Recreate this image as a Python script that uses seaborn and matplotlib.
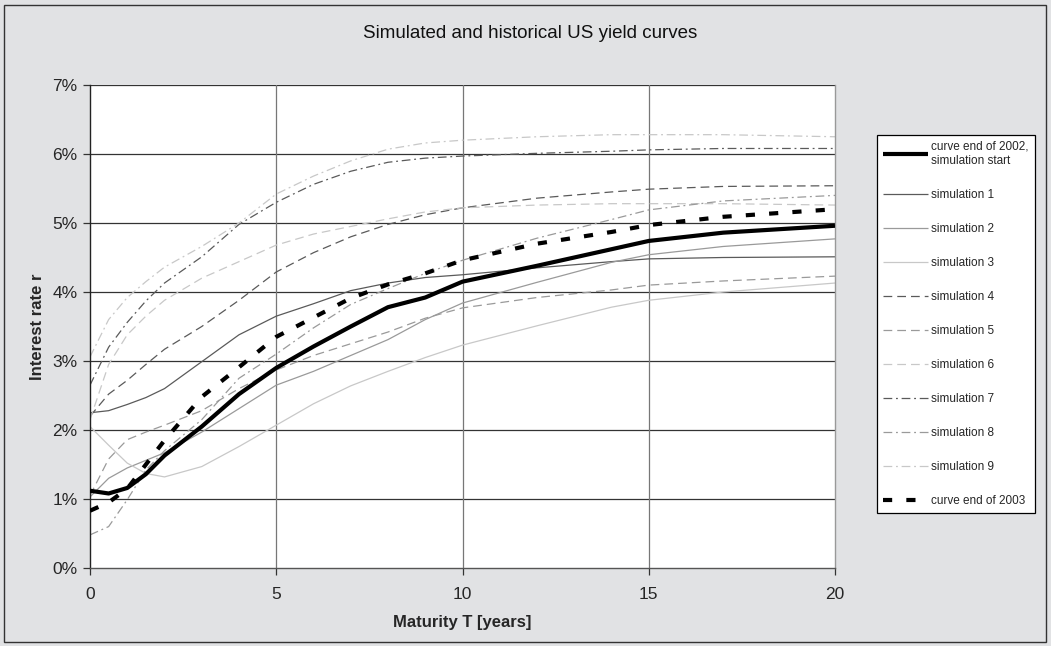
import matplotlib
matplotlib.use("Agg")
import matplotlib.pyplot as plt
import seaborn as sns
import pandas as pd
from matplotlib.patches import Rectangle

# ---------------- data (percent) ----------------
maturity = [0, 0.5, 1, 1.5, 2, 3, 4, 5, 6, 7, 8, 9, 10, 12, 14, 15, 17, 20]

curve_2002 = [1.12, 1.08, 1.16, 1.36, 1.63, 2.05, 2.52, 2.90, 3.21, 3.50, 3.78, 3.92, 4.15, 4.38, 4.62, 4.74, 4.86, 4.96]
sim_1 = [2.25, 2.28, 2.37, 2.47, 2.60, 2.99, 3.38, 3.65, 3.83, 4.02, 4.13, 4.21, 4.25, 4.35, 4.44, 4.48, 4.50, 4.51]
sim_2 = [1.03, 1.30, 1.45, 1.56, 1.67, 1.97, 2.31, 2.65, 2.85, 3.08, 3.31, 3.60, 3.84, 4.14, 4.43, 4.54, 4.66, 4.77]
sim_3 = [2.05, 1.78, 1.52, 1.37, 1.32, 1.47, 1.76, 2.07, 2.38, 2.64, 2.85, 3.05, 3.23, 3.51, 3.78, 3.88, 4.00, 4.13]
sim_4 = [2.20, 2.52, 2.72, 2.95, 3.17, 3.50, 3.88, 4.29, 4.57, 4.80, 4.98, 5.12, 5.22, 5.36, 5.45, 5.49, 5.53, 5.54]
sim_5 = [1.05, 1.58, 1.86, 1.97, 2.07, 2.28, 2.60, 2.87, 3.08, 3.25, 3.42, 3.62, 3.77, 3.92, 4.03, 4.10, 4.16, 4.23]
sim_6 = [2.15, 2.95, 3.38, 3.65, 3.88, 4.20, 4.44, 4.68, 4.84, 4.95, 5.06, 5.16, 5.22, 5.26, 5.28, 5.28, 5.28, 5.26]
sim_7 = [2.65, 3.20, 3.56, 3.87, 4.13, 4.51, 4.98, 5.30, 5.56, 5.75, 5.88, 5.94, 5.97, 6.01, 6.04, 6.06, 6.08, 6.08]
sim_8 = [0.48, 0.60, 0.99, 1.42, 1.70, 2.15, 2.75, 3.10, 3.48, 3.82, 4.05, 4.27, 4.46, 4.78, 5.05, 5.19, 5.32, 5.40]
sim_9 = [3.06, 3.60, 3.92, 4.15, 4.36, 4.66, 5.00, 5.42, 5.68, 5.90, 6.07, 6.16, 6.20, 6.25, 6.28, 6.28, 6.28, 6.25]
curve_2003 = [0.83, 0.95, 1.15, 1.50, 1.85, 2.48, 2.91, 3.35, 3.63, 3.91, 4.11, 4.27, 4.46, 4.70, 4.87, 4.97, 5.09, 5.20]

labels = ["curve end of 2002,\nsimulation start", "simulation 1", "simulation 2", "simulation 3",
          "simulation 4", "simulation 5", "simulation 6", "simulation 7", "simulation 8",
          "simulation 9", "curve end of 2003"]
series = [curve_2002, sim_1, sim_2, sim_3, sim_4, sim_5, sim_6, sim_7, sim_8, sim_9, curve_2003]

x_ticks = [0, 5, 10, 15, 20]
y_ticks = [0, 1, 2, 3, 4, 5, 6, 7]

# ---------------- styles ----------------
dark, mid, light = "#5a5a5a", "#9a9a9a", "#c8c8c8"
solid = None
dash = (7, 4)
dashdot = (7, 3, 1.5, 3)
styles = [
    ("black", 3.0, solid),
    (dark, 0.9, solid), (mid, 0.9, solid), (light, 0.9, solid),
    (dark, 0.9, dash), (mid, 0.9, dash), (light, 0.9, dash),
    (dark, 0.9, dashdot), (mid, 0.9, dashdot), (light, 0.9, dashdot),
    ("black", 3.0, (2.2, 3.4)),
]

sns.set_theme(style="white")
plt.rcParams["font.family"] = ["Liberation Sans Narrow", "Liberation Sans", "DejaVu Sans"]

fig = plt.figure(figsize=(10.51, 6.46), dpi=100)
fig.patch.set_facecolor("#e1e2e4")
ax = fig.add_axes([90 / 1051, 1 - 568 / 646, (835 - 90) / 1051, (568 - 85) / 646])
ax.set_facecolor("white")

# grid
for yv in y_ticks[1:]:
    ax.axhline(yv, color="#333333", lw=0.9, zorder=0)
for xv in x_ticks[1:4]:
    ax.axvline(xv, color="#777777", lw=0.9, zorder=0)

handles = []
for lab, ys, (col, lw, ds) in zip(labels, series, styles):
    df = pd.DataFrame({"T": maturity, "r": ys})
    sns.lineplot(data=df, x="T", y="r", ax=ax, color=col, lw=lw, label=lab, legend=False,
                 zorder=3 if lw > 2 else 2)
    line = ax.lines[-1]
    line.set_solid_capstyle("butt")
    line.set_dash_capstyle("butt")
    line.set_solid_joinstyle("round")
    if ds is not None:
        line.set_dashes(ds)
    handles.append(line)

ax.set_xlim(0, 20)
ax.set_ylim(0, 7)
ax.set_xticks(x_ticks)
ax.set_xticklabels([str(v) for v in x_ticks], fontsize=12.5)
ax.set_yticks(y_ticks)
ax.set_yticklabels([f"{v}%" for v in y_ticks], fontsize=12.5)
ax.tick_params(axis="both", which="both", direction="out", length=5, width=0.9, color="#333333",
               bottom=True, left=True, pad=4)
ax.tick_params(axis="x", pad=9)
ax.spines["top"].set_visible(False)
ax.spines["left"].set_color("#222222")
ax.spines["left"].set_linewidth(1.0)
ax.spines["bottom"].set_color("#555555")
ax.spines["bottom"].set_linewidth(1.0)
ax.spines["right"].set_color("#999999")
ax.spines["right"].set_linewidth(1.0)

ax.set_xlabel("Maturity T [years]", fontsize=12, fontweight="bold", labelpad=9)
ax.set_ylabel("Interest rate r", fontsize=12, fontweight="bold", labelpad=5)

fig.text(530 / 1051, 1 - 33 / 646, "Simulated and historical US yield curves", fontsize=13.5,
         ha="center", va="center", color="#111111")

leg = fig.legend(handles=handles, labels=labels, loc="upper left",
                 bbox_to_anchor=(877 / 1051, 1 - 135 / 646), fontsize=8.5,
                 frameon=True, fancybox=False, edgecolor="black", facecolor="white",
                 framealpha=1, handlelength=3.8, handletextpad=0.3, labelspacing=1.87,
                 borderpad=0.5, borderaxespad=0)
leg.get_frame().set_linewidth(0.9)

fig.patches.append(Rectangle((4 / 1051, 4 / 646), 1 - 9 / 1051, 1 - 9 / 646, transform=fig.transFigure,
                             fill=False, edgecolor="#333333", lw=1.0))

fig.savefig("out.png", dpi=100, facecolor=fig.get_facecolor())
